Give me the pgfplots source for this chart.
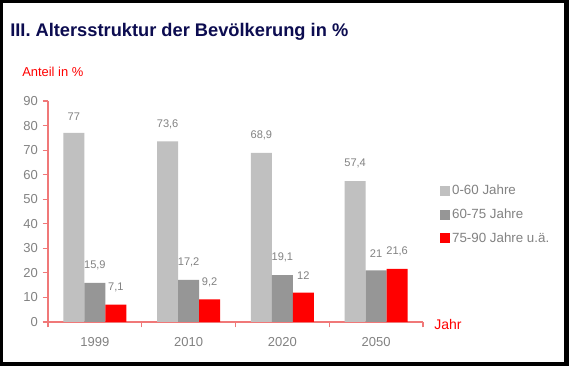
\documentclass[border=0pt]{standalone}
\usepackage{pgfplots}
\pgfplotsset{compat=1.18}
\usepackage{fontspec}
\setmainfont{Liberation Sans}
\definecolor{lgray}{RGB}{192,192,192}
\definecolor{dgray}{RGB}{150,150,150}
\definecolor{txtgray}{RGB}{130,130,130}
\definecolor{axred}{RGB}{240,120,120}
\definecolor{navy}{RGB}{12,12,80}
\begin{document}
\begin{tikzpicture}
\begin{scope}[x=0.75pt,y=0.75pt]
\fill[black] (0,0) rectangle (569,366);
\fill[white] (3,4) rectangle (564,363);
\node[anchor=west, inner sep=0pt, font=\bfseries\fontsize{13.7}{16}\selectfont, text=navy] at (10,334) {III. Altersstruktur der Bevölkerung in \%};
\node[anchor=west, inner sep=0pt, text=red, font=\fontsize{9.7}{12}\selectfont] at (22,294) {Anteil in \%};
\node[anchor=west, inner sep=0pt, text=red, font=\fontsize{10.5}{12}\selectfont] at (434,41) {Jahr};
\end{scope}
\begin{axis}[
  at={(36pt,33pt)}, anchor=south west, scale only axis,
  width=281.25pt, height=165.75pt,
  ybar=0pt, bar width=15.75pt,
  xmin=-0.5, xmax=3.5, ymin=0, ymax=90,
  axis x line*=bottom, axis y line*=left,
  axis line style={draw=axred, line width=0.8pt, -},
  xtick={-0.5,0.5,1.5,2.5,3.5},
  xticklabels={1999,2010,2020,2050},
  x tick label as interval,
  ytick={0,10,...,90},
  tick align=outside,
  tick style={draw=axred, line width=0.8pt},
  major tick length=4pt,
  ticklabel style={text=txtgray, font=\fontsize{9.75}{11}\selectfont},
  /pgf/number format/assume math mode=true,
  /pgf/number format/use comma,
  xticklabel style={yshift=-4pt},
  nodes near coords,
  nodes near coords style={text=txtgray, font=\fontsize{8.3}{10}\selectfont, yshift=6pt},
  legend style={at={(1.045,0.63)}, anchor=north west, draw=none, fill=none,
    font=\fontsize{10}{12}\selectfont, text=txtgray, row sep=6pt, inner sep=0pt,
    nodes={inner sep=1.5pt}},
  legend cell align=left,
  legend image code/.code={\fill[#1] (0pt,-3.75pt) rectangle (7.5pt,3.75pt);},
]
\addplot[fill=lgray, draw=none] coordinates {(0,77) (1,73.6) (2,68.9) (3,57.4)};
\addplot[fill=dgray, draw=none] coordinates {(0,15.9) (1,17.2) (2,19.1) (3,21)};
\addplot[fill=red, draw=none] coordinates {(0,7.1) (1,9.2) (2,12) (3,21.6)};
\legend{0-60 Jahre, 60-75 Jahre, 75-90 Jahre u.ä.}
\end{axis}
\pgfresetboundingbox
\useasboundingbox (0,0) rectangle (426.75pt,274.5pt);
\end{tikzpicture}
\end{document}
